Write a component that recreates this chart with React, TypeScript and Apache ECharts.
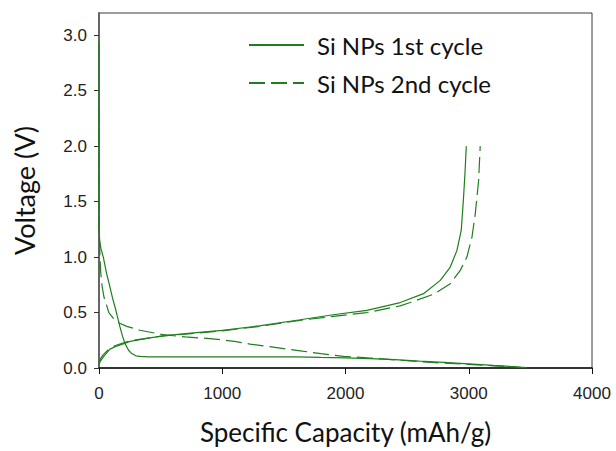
import React, { useEffect, useRef } from "react";
import * as echarts from "echarts";

// ---- Data ----
const seriesNames = ["Si NPs 1st cycle", "Si NPs 2nd cycle"];

// 1st cycle, discharge (lithiation)
const c1DisCap = [0, 0, 0, 5, 15, 35, 60, 89, 110, 130, 150, 170, 190, 211, 240, 265, 300, 333, 400, 600, 800, 1000, 1200, 1400, 1600, 1800, 2000, 2200, 2400, 2600, 2800, 3000, 3200, 3350, 3470];
const c1DisV = [2.94, 2.0, 1.3, 1.15, 1.08, 1.0, 0.86, 0.73, 0.63, 0.55, 0.46, 0.37, 0.29, 0.22, 0.16, 0.13, 0.11, 0.105, 0.1, 0.1, 0.1, 0.1, 0.1, 0.1, 0.1, 0.095, 0.092, 0.085, 0.075, 0.062, 0.05, 0.037, 0.023, 0.013, 0.0];
// 1st cycle, charge (delithiation)
const c1ChCap = [0, 10, 35, 89, 150, 252, 400, 522, 700, 1000, 1300, 1632, 1900, 2174, 2444, 2633, 2769, 2850, 2904, 2939, 2958, 2970, 2980];
const c1ChV = [0.03, 0.06, 0.1, 0.17, 0.2, 0.24, 0.27, 0.29, 0.31, 0.34, 0.38, 0.435, 0.48, 0.52, 0.59, 0.67, 0.79, 0.91, 1.06, 1.24, 1.54, 1.77, 2.0];

// 2nd cycle, discharge
const c2DisCap = [0, 0, 3, 8, 14, 25, 40, 80, 135, 225, 333, 522, 700, 901, 1100, 1226, 1400, 1632, 1800, 1983, 2200, 2444, 2700, 2985, 3200, 3350, 3500];
const c2DisV = [2.35, 1.6, 1.2, 1.0, 0.86, 0.74, 0.64, 0.5, 0.42, 0.375, 0.34, 0.3, 0.28, 0.265, 0.24, 0.215, 0.19, 0.155, 0.13, 0.105, 0.09, 0.07, 0.05, 0.033, 0.02, 0.012, 0.0];
// 2nd cycle, charge
const c2ChCap = [0, 10, 35, 89, 150, 252, 400, 522, 700, 1000, 1300, 1632, 1900, 2174, 2444, 2525, 2715, 2850, 2931, 2985, 3026, 3053, 3080, 3093];
const c2ChV = [0.05, 0.08, 0.12, 0.18, 0.21, 0.245, 0.27, 0.29, 0.305, 0.335, 0.375, 0.43, 0.465, 0.5, 0.56, 0.59, 0.665, 0.76, 0.88, 1.0, 1.18, 1.39, 1.69, 2.0];

const xTicks = [0, 1000, 2000, 3000, 4000];
const yTicks = [0, 0.5, 1.0, 1.5, 2.0, 2.5, 3.0];

const xTitle = "Specific Capacity (mAh/g)";
const yTitle = "Voltage (V)";

const zip = (xs: number[], ys: number[]) => xs.map((x, i) => [x, ys[i]]);

const GREEN = "#1f7f1f";
const DASH = [16, 6];
const TITLE_FONT = "Lato, 'Open Sans', sans-serif";
const TICK_FONT = "'Liberation Sans', Arial, sans-serif";

export default function App() {
  const ref = useRef<HTMLDivElement>(null);

  useEffect(() => {
    if (!ref.current) return;
    const chart = echarts.init(ref.current, null, { renderer: "svg" });

    const lineSeries = (name: string, data: number[][], dashed: boolean) => ({
      name,
      type: "line",
      data,
      symbol: "none",
      showSymbol: false,
      smooth: false,
      lineStyle: { color: GREEN, width: 1.2, type: dashed ? DASH : "solid" },
      itemStyle: { color: GREEN },
      emphasis: { disabled: true },
    });

    chart.setOption({
      animation: false,
      backgroundColor: "#ffffff",
      grid: {
        left: 99,
        top: 13,
        right: 24,
        bottom: 83,
        show: true,
        borderColor: "#3a3a3a",
        borderWidth: 1,
        backgroundColor: "transparent",
      },
      legend: {
        orient: "vertical",
        left: 243,
        top: 28,
        itemWidth: 55,
        itemHeight: 20,
        itemGap: 14,
        data: seriesNames,
        itemStyle: { opacity: 0 },
        textStyle: {
          fontFamily: TITLE_FONT,
          fontSize: 24,
          color: "#111",
          padding: [0, 0, 0, 8],
        },
        selectedMode: false,
      },
      xAxis: {
        type: "value",
        min: 0,
        max: 4000,
        interval: 1000,
        name: xTitle,
        nameLocation: "middle",
        nameGap: 51,
        nameTextStyle: { fontFamily: TITLE_FONT, fontSize: 26, color: "#111" },
        axisLine: { show: true, onZero: false, lineStyle: { color: "#111", width: 1.5 } },
        axisTick: { show: true, inside: false, length: 6, lineStyle: { color: "#111", width: 1 }, customValues: xTicks },
        axisLabel: {
          margin: 17,
          fontFamily: TICK_FONT,
          fontSize: 17,
          color: "#222",
          customValues: xTicks,
          formatter: (v: number) => String(v),
        },
        splitLine: { show: false },
      },
      yAxis: {
        type: "value",
        min: 0,
        max: 3.2,
        interval: 0.5,
        name: yTitle,
        nameLocation: "middle",
        nameGap: 61,
        nameTextStyle: { fontFamily: TITLE_FONT, fontSize: 27, color: "#111" },
        axisLine: { show: true, onZero: false, lineStyle: { color: "#666", width: 2 } },
        axisTick: { show: true, inside: false, length: 5, lineStyle: { color: "#333", width: 1 }, customValues: yTicks },
        axisLabel: {
          margin: 12,
          fontFamily: TICK_FONT,
          fontSize: 17,
          color: "#222",
          customValues: yTicks,
          formatter: (v: number) => v.toFixed(1),
        },
        splitLine: { show: false },
      },
      series: [
        lineSeries(seriesNames[0], zip(c1DisCap, c1DisV), false),
        lineSeries(seriesNames[0], zip(c1ChCap, c1ChV), false),
        lineSeries(seriesNames[1], zip(c2DisCap, c2DisV), true),
        lineSeries(seriesNames[1], zip(c2ChCap, c2ChV), true),
      ],
    });

    return () => chart.dispose();
  }, []);

  return (
    <div
      ref={ref}
      style={{ position: "absolute", left: 0, top: 0, width: 616, height: 451, background: "#fff" }}
    />
  );
}
